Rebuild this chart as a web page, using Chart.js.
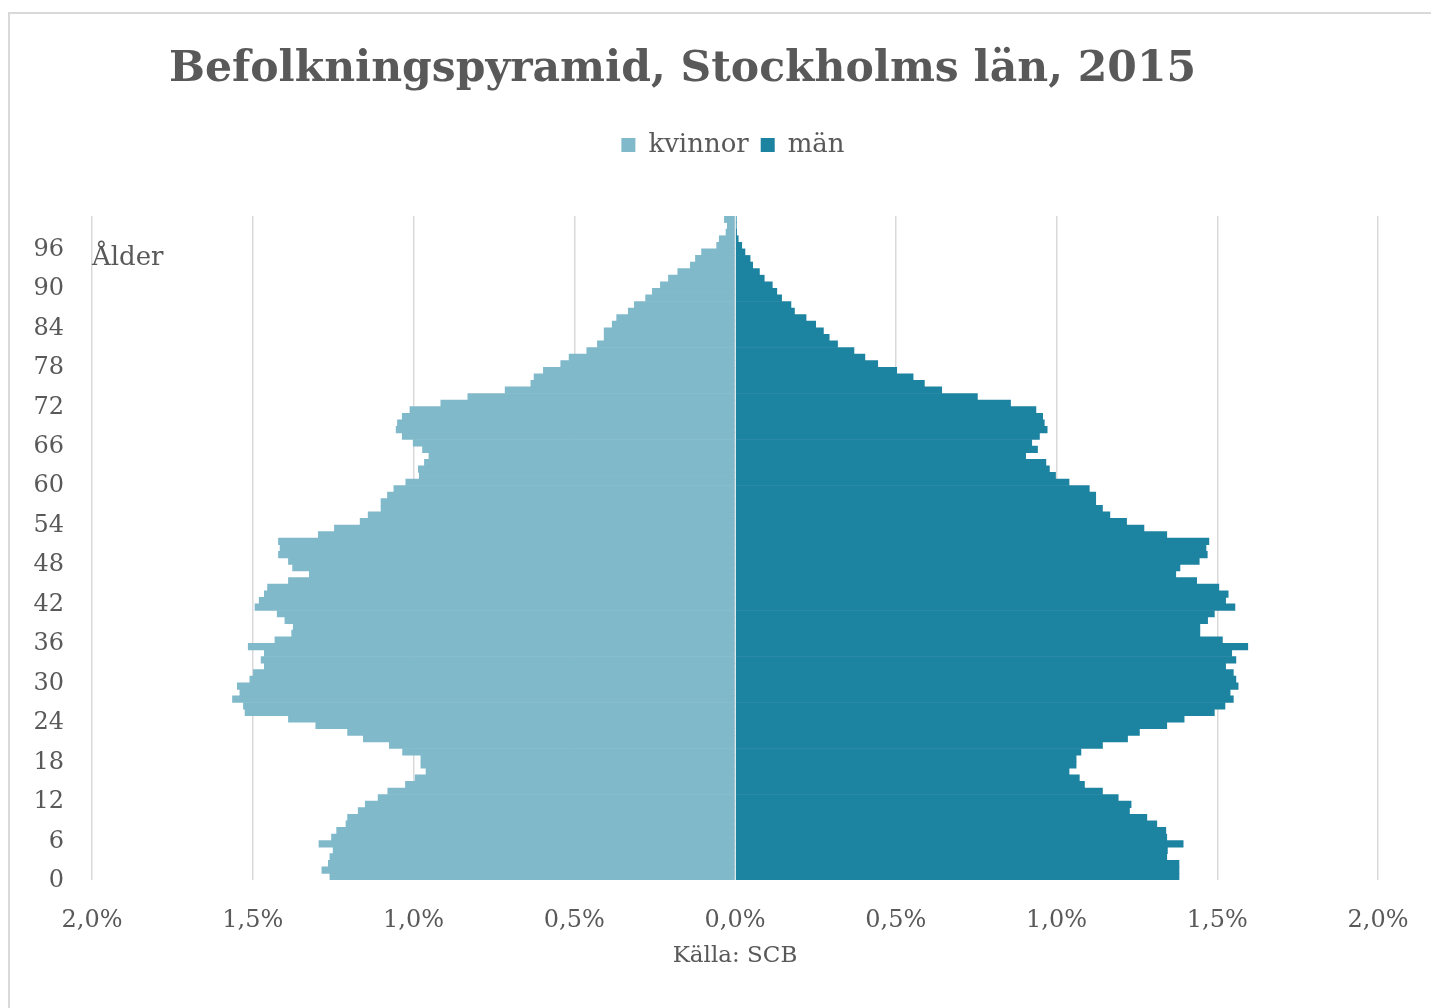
<!DOCTYPE html>
<html>
<head>
<meta charset="utf-8">
<script src="https://cdn.jsdelivr.net/npm/chart.js@4.4.1/dist/chart.umd.min.js"></script>
<style>
  html, body { margin: 0; padding: 0; background: #ffffff; overflow: hidden; }
  #frame { position: absolute; left: 8px; top: 12px; width: 1440px; height: 1010px;
           border-left: 2px solid #d9d9d9; border-top: 2px solid #d9d9d9; box-sizing: border-box; }
  #wrap { position: absolute; left: 0; top: 0; width: 1431px; height: 1008px; }
</style>
</head>
<body>
<div id="frame"></div>
<div id="wrap"><canvas id="c" width="1431" height="1008"></canvas></div>
<script>
// ---- Data (percent of total population), ages 0..100 ----
const ages = Array.from({length: 101}, (_, i) => String(i));

const kvinnor = [
  1.260, 1.285, 1.265, 1.260, 1.250, 1.294, 1.255, 1.239, 1.210, 1.205,
  1.172, 1.150, 1.110, 1.080, 1.025, 0.995, 0.961, 0.977, 0.977, 1.034,
  1.075, 1.156, 1.205, 1.304, 1.389, 1.524, 1.529, 1.563, 1.540, 1.548,
  1.509, 1.498, 1.464, 1.474, 1.464, 1.514, 1.431, 1.379, 1.374, 1.400,
  1.424, 1.493, 1.480, 1.464, 1.454, 1.389, 1.324, 1.376, 1.389, 1.420,
  1.415, 1.420, 1.296, 1.246, 1.166, 1.141, 1.101, 1.101, 1.081, 1.061,
  1.024, 0.982, 0.985, 0.966, 0.952, 0.972, 1.001, 1.035, 1.054, 1.050,
  1.035, 1.011, 0.915, 0.831, 0.715, 0.635, 0.625, 0.596, 0.542, 0.516,
  0.461, 0.428, 0.407, 0.407, 0.382, 0.368, 0.332, 0.313, 0.278, 0.257,
  0.232, 0.207, 0.178, 0.139, 0.123, 0.104, 0.057, 0.049, 0.028, 0.024,
  0.033
];

const man = [
  1.381, 1.381, 1.381, 1.343, 1.345, 1.394, 1.343, 1.340, 1.312, 1.281,
  1.227, 1.232, 1.192, 1.143, 1.087, 1.071, 1.039, 1.061, 1.061, 1.076,
  1.143, 1.221, 1.258, 1.343, 1.397, 1.491, 1.524, 1.550, 1.540, 1.565,
  1.558, 1.550, 1.526, 1.558, 1.545, 1.595, 1.516, 1.446, 1.446, 1.470,
  1.491, 1.555, 1.526, 1.534, 1.505, 1.436, 1.371, 1.384, 1.444, 1.469,
  1.465, 1.474, 1.343, 1.272, 1.218, 1.166, 1.143, 1.122, 1.122, 1.102,
  1.039, 0.997, 0.978, 0.967, 0.904, 0.941, 0.923, 0.947, 0.971, 0.962,
  0.957, 0.936, 0.857, 0.754, 0.643, 0.589, 0.554, 0.503, 0.444, 0.404,
  0.370, 0.319, 0.293, 0.275, 0.251, 0.221, 0.185, 0.174, 0.145, 0.130,
  0.116, 0.091, 0.076, 0.055, 0.047, 0.031, 0.021, 0.010, 0.005, 0.004,
  0.004
];

const yTickAges = ['0','6','12','18','24','30','36','42','48','54','60','66','72','78','84','90','96'];
const xTickLabels = ['2,0%','1,5%','1,0%','0,5%','0,0%','0,5%','1,0%','1,5%','2,0%'];

const titleText = 'Befolkningspyramid, Stockholms län, 2015';
const sourceText = 'Källa: SCB';
const ageAxisText = 'Ålder';

const colKvinnor = '#80b9ca';
const colMan = '#1c83a1';
const textCol = '#595959';
const serif = "'DejaVu Serif', 'Liberation Serif', serif";

// empty layout box that leaves room between the legend and the plot area
function makeSpacer(h) {
  return {
    position: 'top', weight: 10, fullSize: true, options: {},
    left: 0, top: 0, right: 0, bottom: 0, width: 0, height: 0,
    isHorizontal() { return true; },
    update(maxWidth) { this.width = maxWidth; this.height = h; return {width: maxWidth, height: h}; },
    draw() {}
  };
}

const extras = {
  id: 'extras',
  beforeInit(chart) {
    try { Chart.layouts.addBox(chart, makeSpacer(48)); } catch (e) {}
  },
  afterLayout(chart) {
    const t = chart.titleBlock;
    if (t) { t.right -= 13; }
    const l = chart.legend;
    if (l) { l.left += 44; l.right += 44; }
  },
  afterDatasetsDraw(chart) {
    const {ctx, chartArea, scales} = chart;
    const x0 = scales.x.getPixelForValue(0);
    ctx.save();
    ctx.strokeStyle = 'rgba(255,255,255,0.75)';
    ctx.lineWidth = 1;
    ctx.beginPath();
    ctx.moveTo(Math.round(x0) + 0.5, chartArea.top);
    ctx.lineTo(Math.round(x0) + 0.5, chartArea.bottom);
    ctx.stroke();
    ctx.fillStyle = textCol;
    ctx.font = "26px " + serif;
    ctx.textAlign = 'left';
    ctx.textBaseline = 'alphabetic';
    ctx.fillText(ageAxisText, chartArea.left, chartArea.top + 49);
    ctx.restore();
  }
};

new Chart(document.getElementById('c'), {
  type: 'bar',
  data: {
    labels: ages,
    datasets: [
      { label: 'kvinnor', data: kvinnor.map(v => -v), backgroundColor: colKvinnor,
        borderWidth: 0, barPercentage: 1.0, categoryPercentage: 1.0 },
      { label: 'män', data: man, backgroundColor: colMan,
        borderWidth: 0, barPercentage: 1.0, categoryPercentage: 1.0 }
    ]
  },
  options: {
    indexAxis: 'y',
    responsive: false,
    animation: false,
    layout: { padding: { left: 0, right: 53, top: 0, bottom: 38 } },
    plugins: {
      title: {
        display: true, text: titleText, color: textCol,
        font: { family: serif, size: 42.5, weight: 'bold' },
        padding: { top: 44, bottom: 25 }
      },
      legend: {
        display: true, position: 'top', align: 'center',
        labels: {
          color: textCol, font: { family: serif, size: 26 },
          boxWidth: 14, boxHeight: 14, padding: 12
        }
      },
      tooltip: { enabled: false }
    },
    scales: {
      x: {
        type: 'linear', min: -2, max: 2, stacked: true,
        grid: { color: '#d9d9d9', lineWidth: 1.5, drawTicks: false },
        border: { display: false },
        afterFit(scale) { scale.height = 90; scale.paddingRight = 0; scale.paddingLeft = 0; },
        ticks: {
          stepSize: 0.5, color: textCol, padding: 26,
          font: { family: serif, size: 24 },
          callback: (v, i) => xTickLabels[i]
        },
        title: {
          display: true, text: sourceText, color: textCol,
          font: { family: serif, size: 23 }, padding: { top: 4, bottom: 0 }
        }
      },
      y: {
        type: 'category', reverse: true, stacked: true,
        grid: { display: false, drawTicks: false },
        border: { display: false },
        afterFit(scale) { scale.width = 92; },
        ticks: {
          autoSkip: false, color: textCol, padding: 28, labelOffset: 4,
          font: { family: serif, size: 24 },
          callback: function (v, i) { const a = ages[i]; return yTickAges.includes(a) ? a : ''; }
        }
      }
    }
  },
  plugins: [extras]
});
</script>
</body>
</html>
